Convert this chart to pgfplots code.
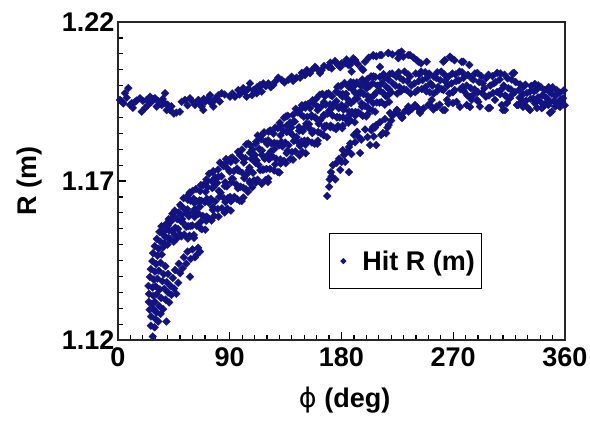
\documentclass[border=0pt]{standalone}
\usepackage{fontspec}
\setmainfont{Liberation Sans}
\newfontfamily\dejavu{DejaVu Sans}
\usepackage{pgfplots}
\pgfplotsset{compat=1.18}
\definecolor{hitblue}{RGB}{18,18,128}
\newcommand{\bigbf}{\fontsize{27}{32}\selectfont\bfseries}

\pgfplotsset{hit/.style={only marks, mark=square*, mark size=2.8pt,
  mark options={rotate=45, fill=hitblue, draw=hitblue, line width=0.2pt}}}

\begin{document}
\begin{tikzpicture}
\useasboundingbox (-118pt,-84pt) rectangle (472pt,340pt);
\begin{axis}[
  scale only axis, width=447pt, height=318pt,
  xmin=0, xmax=360, ymin=1.12, ymax=1.22,
  xtick={0,90,180,270,360}, ytick={1.12,1.17,1.22},
  minor x tick num=8, minor y tick num=9,
  tick align=inside, xtick pos=left, ytick pos=left,
  major tick length=8pt, minor tick length=5pt,
  every tick/.style={black, line width=1.2pt},
  axis line style={line width=1.6pt, black!85},
  /pgf/number format/assume math mode=true,
  tick label style={font=\bigbf},
  xticklabel style={yshift=-4pt},
  yticklabel style={/pgf/number format/.cd, fixed, fixed zerofill, precision=2},
  label style={font=\bigbf},
  xlabel={{\dejavu\mdseries ϕ} (deg)},
  ylabel={R (m)},
  xlabel style={at={(axis description cs:0.507,-0.189)}, anchor=center},
  ylabel style={at={(axis description cs:-0.197,0.5)}, anchor=center},
  legend style={at={(axis description cs:0.472,0.336)}, anchor=north west,
    draw=black, line width=0.8pt, font=\bigbf, inner xsep=5pt, inner ysep=15pt},
  legend image code/.code={
    \fill[hitblue] (9pt,2.5pt) -- (11.5pt,0pt) -- (9pt,-2.5pt) -- (6.5pt,0pt) -- cycle;
    \path[draw=none, fill=none] (0pt,0pt) (26pt,0pt);},
]
% upper flat band, 0 to 230 deg
\addplot[hit] table[row sep=\\] {x y\\
1.6 1.1955\\ 5.6 1.1976\\ 8.3 1.1992\\ 4.3 1.1944\\ 9.7 1.1939\\ 13.7 1.1949\\ 17.7 1.1960\\ 19.1 1.1918\\ 21.7 1.1929\\ 23.1 1.1955\\
25.8 1.1965\\ 27.1 1.1949\\ 29.8 1.1960\\ 31.2 1.1934\\ 33.8 1.1949\\ 35.2 1.1939\\ 37.9 1.1976\\ 39.2 1.1923\\ 41.9 1.1923\\ 37.9 1.1944\\
49.9 1.1918\\ 51.3 1.1949\\ 54.0 1.1955\\ 58.0 1.1960\\ 62.0 1.1939\\ 64.7 1.1955\\ 67.4 1.1934\\ 68.7 1.1923\\ 70.1 1.1949\\ 72.7 1.1960\\
74.1 1.1970\\ 76.8 1.1934\\ 78.1 1.1955\\ 80.8 1.1970\\ 83.5 1.1976\\ 90.2 1.1965\\ 94.2 1.1965\\ 96.9 1.1986\\ 100.9 1.1992\\ 103.6 1.1965\\
106.3 1.2007\\ 109.0 1.1986\\ 111.7 1.1976\\ 114.4 1.1997\\ 117.0 1.2007\\ 115.7 1.1981\\
3 1.1950\\ 7 1.1962\\ 11 1.1945\\ 15 1.1953\\ 12 1.1930\\ 20 1.1952\\ 24 1.1938\\ 28 1.1958\\ 32 1.1952\\ 36 1.1958\\
40 1.1940\\ 43 1.1935\\ 45 1.1912\\ 47 1.1915\\ 56 1.1938\\ 60 1.1950\\ 66 1.1945\\ 69 1.1958\\ 75 1.1945\\ 79 1.1962\\
82 1.1950\\ 86 1.1972\\ 92 1.1975\\ 98 1.1972\\ 102 1.1980\\ 105 1.1990\\ 108 1.1970\\ 112 1.1995\\ 119 1.1998\\ 121 1.2005\\
111.7 1.1991\\ 114.4 1.2002\\ 121.1 1.2007\\ 125.1 1.2002\\ 126.4 1.2012\\ 129.1 1.2025\\ 131.8 1.2018\\ 137.2 1.2018\\ 139.9 1.2028\\ 143.9 1.2025\\
146.6 1.2025\\ 150.6 1.2033\\ 152.0 1.2049\\ 154.6 1.2039\\ 158.7 1.2059\\ 160.0 1.2054\\ 162.7 1.2039\\ 164.0 1.2049\\ 169.4 1.2059\\ 172.1 1.2054\\
174.8 1.2077\\ 177.4 1.2065\\ 180.1 1.2070\\ 182.8 1.2070\\ 185.5 1.2065\\ 188.2 1.2075\\ 189.5 1.2086\\ 190.9 1.2080\\ 188.2 1.2044\\ 196.3 1.2054\\
205.6 1.2094\\ 211.0 1.2059\\ 212.3 1.2096\\ 217.7 1.2102\\ 228.4 1.2107\\ 225.8 1.2086\\
123 1.1995\\ 134 1.2010\\ 141 1.2015\\ 148 1.2040\\ 156 1.2048\\ 166 1.2062\\ 171 1.2072\\ 179 1.2058\\ 184 1.2082\\ 193 1.2068\\ 199 1.2075\\ 202 1.2088\\
};
\addlegendentry{Hit R (m)}
% top arc, 170 to 285 deg
\addplot[hit, forget plot] table[row sep=\\] {x y\\
170.7 1.2059\\ 176.1 1.2070\\ 184.2 1.2075\\ 190.9 1.2080\\ 197.5 1.2049\\ 205.6 1.2096\\ 211.0 1.2096\\ 217.7 1.2103\\ 227.1 1.2103\\ 235.2 1.2096\\
240.6 1.2080\\ 248.6 1.2075\\ 263.3 1.2080\\ 267.4 1.2091\\ 278.1 1.2075\\ 186.8 1.2065\\ 229.8 1.2091\\ 225.8 1.2102\\ 233.8 1.2096\\ 241.9 1.2075\\
262.0 1.2075\\ 268.7 1.2086\\ 276.8 1.2075\\ 208 1.2092\\ 221 1.2098\\ 238 1.2088\\ 244 1.2070\\ 271 1.2080\\ 283 1.2065\\
};
% lower left cluster and inner strand, 24 to 66 deg
\addplot[hit, forget plot] table[row sep=\\] {x y\\
28 1.1211\\ 26.5 1.1245\\ 29.5 1.1240\\ 26.6 1.1274\\ 30.2 1.1266\\ 32.4 1.1258\\ 25.5 1.1295\\ 28.9 1.1296\\ 31 1.1287\\ 34.3 1.1282\\
24.8 1.1320\\ 27.3 1.1314\\ 29.7 1.1320\\ 33.2 1.1307\\ 36.4 1.1297\\ 39 1.1258\\ 25 1.1345\\ 28.4 1.1339\\ 31.2 1.1344\\ 34.8 1.1332\\
38.3 1.1327\\ 41.2 1.1318\\ 24.5 1.1370\\ 27.8 1.1365\\ 30.3 1.1369\\ 33.7 1.1359\\ 37.3 1.1361\\ 40.4 1.1349\\ 43.1 1.1342\\ 25.7 1.1398\\
28.8 1.1390\\ 31.7 1.1393\\ 35.8 1.1385\\ 39.2 1.1382\\ 42.3 1.1370\\ 45.2 1.1362\\ 26.4 1.1423\\ 29.8 1.1415\\ 32.8 1.1418\\ 36.8 1.1407\\
40.3 1.1408\\ 44.2 1.1395\\ 27.7 1.1448\\ 30.7 1.1439\\ 34.3 1.1443\\ 38.2 1.1432\\ 46 1.1420\\ 28.3 1.1473\\ 31.8 1.1465\\ 35.2 1.1469\\
29.6 1.1495\\ 32.7 1.1487\\ 36.3 1.1491\\ 31.2 1.1518\\ 34.2 1.1509\\ 33.3 1.1540\\ 36.2 1.1532\\ 35 1.1558\\
47 1.1345\\ 48.5 1.1380\\ 50 1.1410\\ 49 1.1440\\ 52 1.1425\\ 53 1.1460\\ 55 1.1440\\ 56 1.1478\\ 58 1.1399\\ 58.5 1.1455\\
60 1.1485\\ 62 1.1460\\ 63.4 1.1468\\ 64.5 1.1490\\ 66 1.1478\\
};
% main band, 37 to 219 deg
\addplot[hit, forget plot] table[row sep=\\] {x y\\
37.1 1.1504\\ 38.4 1.1523\\ 37.8 1.1544\\ 38.8 1.1565\\ 39.9 1.1500\\ 40.6 1.1521\\ 41.2 1.1544\\ 40.1 1.1560\\ 40.8 1.1580\\
42.1 1.1517\\ 43.4 1.1544\\ 42.8 1.1573\\ 43.8 1.1597\\ 44.9 1.1509\\ 45.6 1.1531\\ 46.2 1.1553\\ 45.1 1.1588\\ 45.8 1.1607\\
47.1 1.1518\\ 48.4 1.1549\\ 47.8 1.1580\\ 48.8 1.1601\\ 49.9 1.1532\\ 50.6 1.1574\\ 51.2 1.1593\\ 50.1 1.1625\\
53.3 1.1532\\ 52.1 1.1570\\ 53.4 1.1612\\ 52.8 1.1646\\ 56.3 1.1519\\ 54.9 1.1556\\ 55.6 1.1599\\ 56.2 1.1641\\
57.6 1.1528\\ 58.3 1.1558\\ 57.1 1.1589\\ 58.4 1.1638\\ 57.8 1.1664\\ 61.3 1.1521\\ 59.9 1.1560\\ 60.6 1.1602\\ 61.2 1.1632\\ 60.1 1.1669\\
63.3 1.1559\\ 62.1 1.1612\\ 63.4 1.1636\\ 62.8 1.1675\\ 66.3 1.1552\\ 64.9 1.1597\\ 65.6 1.1639\\ 66.2 1.1668\\
67.6 1.1548\\ 68.3 1.1590\\ 67.1 1.1638\\ 68.4 1.1686\\ 70.3 1.1547\\ 71.3 1.1588\\ 69.9 1.1633\\ 70.6 1.1666\\ 71.2 1.1705\\
72.6 1.1584\\ 73.3 1.1631\\ 72.1 1.1681\\ 73.4 1.1723\\ 75.3 1.1576\\ 76.3 1.1609\\ 74.9 1.1644\\ 75.6 1.1699\\ 76.2 1.1728\\
77.6 1.1590\\ 78.3 1.1636\\ 77.1 1.1681\\ 78.4 1.1711\\ 80.3 1.1612\\ 81.3 1.1669\\ 79.9 1.1694\\ 80.6 1.1736\\
83.7 1.1614\\ 82.6 1.1663\\ 83.3 1.1715\\ 82.1 1.1758\\ 85.9 1.1601\\ 85.3 1.1646\\ 86.3 1.1696\\ 84.9 1.1747\\
88.1 1.1613\\ 88.7 1.1647\\ 87.6 1.1683\\ 88.3 1.1739\\ 87.1 1.1769\\ 90.9 1.1607\\ 90.3 1.1650\\ 91.3 1.1696\\ 89.9 1.1730\\ 90.6 1.1771\\
93.7 1.1650\\ 92.6 1.1707\\ 93.3 1.1731\\ 92.1 1.1774\\ 95.9 1.1643\\ 95.3 1.1689\\ 96.3 1.1734\\ 94.9 1.1764\\
98.1 1.1638\\ 98.7 1.1682\\ 97.6 1.1732\\ 98.3 1.1781\\ 99.6 1.1637\\ 100.9 1.1679\\ 100.3 1.1725\\ 101.3 1.1758\\ 99.9 1.1799\\
103.1 1.1674\\ 103.7 1.1721\\ 102.6 1.1772\\ 103.3 1.1815\\ 104.6 1.1666\\ 105.9 1.1699\\ 105.3 1.1734\\ 106.3 1.1789\\ 104.9 1.1818\\
108.1 1.1680\\ 108.7 1.1726\\ 107.6 1.1769\\ 108.3 1.1799\\ 109.6 1.1702\\ 110.9 1.1757\\ 110.3 1.1782\\ 111.3 1.1824\\
112.4 1.1704\\ 113.1 1.1751\\ 113.7 1.1801\\ 112.6 1.1843\\ 115.8 1.1691\\ 114.6 1.1734\\ 115.9 1.1782\\ 115.3 1.1831\\
118.8 1.1703\\ 117.4 1.1736\\ 118.1 1.1770\\ 118.7 1.1824\\ 117.6 1.1853\\ 120.8 1.1697\\ 119.6 1.1738\\ 120.9 1.1783\\ 120.3 1.1816\\ 121.3 1.1855\\
122.4 1.1738\\ 123.1 1.1793\\ 123.7 1.1818\\ 122.6 1.1859\\ 125.8 1.1733\\ 124.6 1.1777\\ 125.9 1.1820\\ 125.3 1.1849\\
128.8 1.1728\\ 127.4 1.1770\\ 128.1 1.1818\\ 128.7 1.1866\\ 130.1 1.1727\\ 130.8 1.1768\\ 129.6 1.1812\\ 130.9 1.1844\\ 130.3 1.1883\\
133.8 1.1763\\ 132.4 1.1809\\ 133.1 1.1858\\ 133.7 1.1899\\ 135.1 1.1756\\ 135.8 1.1788\\ 134.6 1.1821\\ 135.9 1.1874\\ 135.3 1.1903\\
138.8 1.1769\\ 137.4 1.1813\\ 138.1 1.1855\\ 138.7 1.1884\\ 140.1 1.1791\\ 140.8 1.1844\\ 139.6 1.1868\\ 140.9 1.1908\\
142.8 1.1793\\ 143.8 1.1838\\ 142.4 1.1887\\ 143.1 1.1927\\ 146.2 1.1780\\ 145.1 1.1822\\ 145.8 1.1869\\ 144.6 1.1916\\
148.4 1.1792\\ 147.8 1.1824\\ 148.8 1.1857\\ 147.4 1.1909\\ 148.1 1.1938\\ 151.2 1.1787\\ 150.1 1.1827\\ 150.8 1.1870\\ 149.6 1.1902\\ 150.9 1.1940\\
152.8 1.1827\\ 153.8 1.1879\\ 152.4 1.1902\\ 153.1 1.1942\\ 156.2 1.1821\\ 155.1 1.1862\\ 155.8 1.1902\\ 154.6 1.1929\\
158.4 1.1817\\ 157.8 1.1856\\ 158.8 1.1900\\ 157.4 1.1944\\ 160.6 1.1817\\ 161.2 1.1854\\ 160.1 1.1894\\ 160.8 1.1923\\ 159.6 1.1959\\
163.4 1.1850\\ 162.8 1.1891\\ 163.8 1.1935\\ 162.4 1.1971\\ 165.6 1.1844\\ 166.2 1.1872\\ 165.1 1.1902\\ 165.8 1.1948\\ 164.6 1.1974\\
168.4 1.1838\\ 167.8 1.1874\\ 168.8 1.1912\\ 167.4 1.1940\\ 168.1 1.1974\\ 171.2 1.1874\\ 170.1 1.1921\\ 170.8 1.1941\\ 169.6 1.1976\\
173.4 1.1868\\ 172.8 1.1906\\ 173.8 1.1942\\ 172.4 1.1967\\ 175.6 1.1863\\ 176.2 1.1900\\ 175.1 1.1940\\ 175.8 1.1981\\
177.1 1.1873\\ 178.4 1.1900\\ 177.8 1.1929\\ 178.8 1.1973\\ 177.4 1.1998\\ 180.6 1.1866\\ 181.2 1.1900\\ 180.1 1.1938\\ 180.8 1.1965\\ 179.6 1.1998\\
183.4 1.1895\\ 182.8 1.1933\\ 183.8 1.1974\\ 182.4 1.2008\\ 185.6 1.1883\\ 186.2 1.1918\\ 185.1 1.1957\\ 185.8 1.1996\\
187.1 1.1891\\ 188.4 1.1917\\ 187.8 1.1945\\ 188.8 1.1988\\ 187.4 1.2011\\ 190.6 1.1885\\ 191.2 1.1917\\ 190.1 1.1953\\ 190.8 1.1978\\ 189.6 1.2009\\
193.4 1.1916\\ 192.8 1.1959\\ 193.8 1.1977\\ 192.4 1.2010\\ 195.6 1.1910\\ 196.2 1.1944\\ 195.1 1.1977\\ 195.8 1.1999\\
197.1 1.1905\\ 198.4 1.1937\\ 197.8 1.1973\\ 198.8 1.2010\\ 199.9 1.1903\\ 200.6 1.1933\\ 201.2 1.1967\\ 200.1 1.1991\\ 200.8 1.2020\\
202.1 1.1928\\ 203.4 1.1962\\ 202.8 1.1999\\ 203.8 1.2029\\ 204.9 1.1922\\ 205.6 1.1945\\ 206.2 1.1970\\ 205.1 1.2008\\ 205.8 1.2029\\
207.1 1.1918\\ 208.4 1.1947\\ 207.8 1.1978\\ 208.8 1.2000\\ 207.4 1.2027\\ 210.6 1.1946\\ 211.2 1.1983\\ 210.1 1.1999\\ 210.8 1.2027\\
212.1 1.1948\\ 213.4 1.1977\\ 212.8 1.2009\\ 213.8 1.2036\\ 214.9 1.1940\\ 215.6 1.1967\\ 216.2 1.1996\\ 215.1 1.2025\\
218.3 1.1949\\ 217.1 1.1968\\ 218.4 1.1988\\ 217.8 1.2019\\ 218.8 1.2036\\
};
% main band, extra hits between the columns, 50 to 202 deg
\addplot[hit, forget plot] table[row sep=\\] {x y\\
51.0 1.1526\\ 51.6 1.1580\\ 50.9 1.1621\\ 56.5 1.1558\\ 55.9 1.1611\\ 56.7 1.1656\\ 61.0 1.1530\\ 61.6 1.1587\\ 60.9 1.1644\\
66.5 1.1571\\ 65.9 1.1619\\ 66.7 1.1687\\ 71.0 1.1575\\ 71.6 1.1644\\ 70.9 1.1695\\ 76.5 1.1617\\ 75.9 1.1678\\ 76.7 1.1731\\
81.0 1.1588\\ 81.6 1.1650\\ 80.9 1.1713\\ 86.5 1.1634\\ 85.9 1.1684\\ 86.7 1.1756\\ 91.0 1.1636\\ 91.6 1.1707\\ 90.9 1.1760\\
96.5 1.1677\\ 95.9 1.1739\\ 96.7 1.1792\\ 101.0 1.1648\\ 101.6 1.1709\\ 100.9 1.1771\\ 106.5 1.1693\\ 105.9 1.1742\\ 106.7 1.1812\\
111.0 1.1695\\ 111.6 1.1765\\ 110.9 1.1817\\ 116.5 1.1736\\ 115.9 1.1796\\ 116.7 1.1848\\ 121.0 1.1708\\ 121.6 1.1768\\ 120.9 1.1828\\
126.5 1.1752\\ 125.9 1.1800\\ 126.7 1.1868\\ 131.0 1.1755\\ 131.6 1.1823\\ 130.9 1.1874\\ 136.5 1.1795\\ 135.9 1.1854\\ 136.7 1.1905\\
141.0 1.1767\\ 141.6 1.1826\\ 140.9 1.1885\\ 146.5 1.1811\\ 145.9 1.1858\\ 146.7 1.1924\\ 151.0 1.1814\\ 151.6 1.1880\\ 150.9 1.1930\\
156.5 1.1851\\ 155.9 1.1907\\ 156.7 1.1954\\ 161.0 1.1827\\ 161.6 1.1880\\ 160.9 1.1934\\ 166.5 1.1867\\ 165.9 1.1908\\ 166.7 1.1967\\
171.0 1.1869\\ 171.6 1.1927\\ 170.9 1.1971\\ 176.5 1.1901\\ 175.9 1.1951\\ 176.7 1.1995\\ 181.0 1.1874\\ 181.6 1.1924\\ 180.9 1.1974\\
186.5 1.1908\\ 185.9 1.1947\\ 186.7 1.2002\\ 191.0 1.1906\\ 191.6 1.1960\\ 190.9 1.2001\\ 196.5 1.1934\\ 195.9 1.1980\\ 196.7 1.2019\\
201.0 1.1910\\ 201.6 1.1955\\ 200.9 1.1999\\
};
% main band, 220 to 360 deg
\addplot[hit, forget plot] table[row sep=\\] {x y\\
220.1 1.1979\\ 221.4 1.2007\\ 220.8 1.2038\\ 224.8 1.1975\\ 223.4 1.2000\\ 224.1 1.2028\\ 227.7 1.1982\\ 226.6 1.1996\\ 227.3 1.2024\\ 226.1 1.2042\\
230.4 1.1989\\ 229.8 1.2017\\ 230.8 1.2044\\ 232.4 1.1986\\ 233.1 1.2014\\ 233.7 1.2035\\ 235.6 1.1975\\ 236.3 1.2000\\ 235.1 1.2028\\
239.4 1.1979\\ 238.8 1.2007\\ 239.8 1.2038\\ 241.4 1.1986\\ 242.1 1.2014\\ 242.7 1.2035\\ 244.6 1.1989\\ 245.3 1.2017\\ 244.1 1.2044\\
248.4 1.1982\\ 247.8 1.1996\\ 248.8 1.2024\\ 247.4 1.2042\\ 251.1 1.1979\\ 251.7 1.2007\\ 250.6 1.2038\\ 254.3 1.1975\\ 253.1 1.2000\\ 254.4 1.2028\\
256.8 1.1982\\ 257.8 1.1996\\ 256.4 1.2024\\ 257.1 1.2042\\ 260.7 1.1989\\ 259.6 1.2017\\ 260.3 1.2044\\ 262.1 1.1986\\ 263.4 1.2014\\ 262.8 1.2035\\
266.8 1.1975\\ 265.4 1.2000\\ 266.1 1.2028\\ 269.7 1.1979\\ 268.6 1.2007\\ 269.3 1.2038\\ 271.1 1.1986\\ 272.4 1.2014\\ 271.8 1.2035\\
275.8 1.1989\\ 274.4 1.2017\\ 275.1 1.2044\\ 278.7 1.1982\\ 277.6 1.1996\\ 278.3 1.2024\\ 277.1 1.2042\\
281.4 1.1969\\ 280.8 1.2000\\ 281.8 1.2034\\ 283.4 1.1965\\ 284.1 1.1992\\ 284.7 1.2023\\ 286.6 1.1973\\ 287.3 1.1988\\ 286.1 1.2019\\ 287.4 1.2038\\
289.8 1.1980\\ 290.8 1.2011\\ 289.4 1.2040\\ 293.1 1.1977\\ 293.7 1.2007\\ 292.6 1.2030\\ 296.3 1.1965\\ 295.1 1.1992\\ 296.4 1.2023\\
298.8 1.1969\\ 299.8 1.2000\\ 298.4 1.2034\\ 302.1 1.1977\\ 302.7 1.2007\\ 301.6 1.2030\\ 305.3 1.1980\\ 304.1 1.2011\\ 305.4 1.2040\\
307.8 1.1973\\ 308.8 1.1988\\ 307.4 1.2019\\ 308.1 1.2038\\ 311.7 1.1969\\ 310.6 1.2000\\ 311.3 1.2034\\ 313.1 1.1965\\ 314.4 1.1992\\ 313.8 1.2023\\
317.8 1.1973\\ 316.4 1.1988\\ 317.1 1.2019\\ 317.7 1.2038\\ 319.6 1.1980\\ 320.3 1.2011\\ 319.1 1.2040\\
323.4 1.1962\\ 322.8 1.1986\\ 323.8 1.2004\\ 325.4 1.1952\\ 326.1 1.1973\\ 326.7 1.1996\\ 328.6 1.1953\\ 329.3 1.1977\\ 328.1 1.2003\\
332.4 1.1958\\ 331.8 1.1981\\ 332.8 1.1999\\ 334.4 1.1959\\ 335.1 1.1982\\ 335.7 1.2005\\ 337.6 1.1952\\ 338.3 1.1963\\ 337.1 1.1987\\ 338.4 1.2001\\
340.8 1.1947\\ 341.8 1.1970\\ 340.4 1.1996\\ 344.1 1.1943\\ 344.7 1.1963\\ 343.6 1.1986\\ 347.3 1.1947\\ 346.1 1.1958\\ 347.4 1.1981\\ 346.8 1.1995\\
350.8 1.1951\\ 349.4 1.1974\\ 350.1 1.1995\\ 353.7 1.1946\\ 352.6 1.1969\\ 353.3 1.1986\\ 355.1 1.1937\\ 356.4 1.1956\\ 355.8 1.1978\\
359.8 1.1938\\ 358.4 1.1960\\ 359.1 1.1985\\
};
% lower arc, 168 to 360 deg
\addplot[hit, forget plot] table[row sep=\\] {x y\\
168.5 1.1653\\ 170.5 1.1705\\ 171.5 1.1728\\ 173 1.1750\\ 176 1.1757\\ 179 1.1735\\ 181 1.1797\\ 183 1.1760\\ 186 1.1728\\ 186 1.1807\\
190 1.1845\\ 192.5 1.1855\\ 195 1.1788\\ 203 1.1813\\ 204 1.1860\\ 208 1.1813\\ 208 1.1876\\ 212 1.1845\\ 216 1.1850\\ 218 1.1876\\
220 1.1890\\ 219 1.1914\\ 224 1.1917\\ 229 1.1900\\ 232 1.1923\\
170 1.1682\\ 172 1.1715\\ 175 1.1705\\ 178 1.1770\\ 180 1.1760\\ 182 1.1782\\ 185 1.1795\\
187 1.1818\\ 188 1.1785\\ 191 1.1822\\ 194 1.1838\\ 196 1.1830\\ 199 1.1862\\ 201 1.1838\\
206 1.1840\\ 207 1.1868\\ 211 1.1885\\ 215 1.1895\\ 217 1.1868\\ 221 1.1905\\
226 1.1910\\ 230 1.1915\\ 234 1.1918\\ 237 1.1928\\ 246 1.1928\\ 254 1.1925\\ 259 1.1940\\
205.4 1.1870\\ 213.4 1.1851\\ 224.7 1.1923\\ 228.7 1.1898\\ 235.2 1.1923\\ 240.8 1.1933\\ 243.2 1.1914\\ 251.3 1.1939\\ 256.9 1.1933\\ 261.7 1.1923\\
265 1.1955\\ 269.8 1.1945\\ 275.4 1.1933\\ 283.5 1.1933\\ 289.1 1.1955\\ 299.6 1.1930\\ 310 1.1923\\ 313.3 1.1945\\ 321.3 1.1939\\ 326.2 1.1933\\
331.8 1.1923\\ 337.4 1.1930\\ 342.3 1.1933\\ 347.9 1.1914\\ 356 1.1933\\
224.5 1.1923\\ 228.5 1.1902\\ 233.8 1.1934\\ 239.2 1.1939\\ 243.2 1.1918\\ 249.9 1.1939\\ 252.6 1.1955\\ 256.6 1.1934\\ 263.3 1.1923\\ 266 1.1944\\
272.7 1.1949\\ 280.8 1.1939\\ 284.8 1.1955\\ 290.2 1.1949\\ 291.5 1.1934\\ 298.2 1.1929\\ 303.6 1.1955\\ 309 1.1939\\ 311.7 1.1923\\ 315.7 1.1960\\
322.4 1.1939\\ 326.4 1.1949\\ 329.1 1.1934\\ 335.8 1.1944\\ 341.2 1.1929\\ 346.6 1.1939\\ 349.3 1.1918\\ 352 1.1934\\ 357.3 1.1949\\
};
\end{axis}
\end{tikzpicture}
\end{document}
